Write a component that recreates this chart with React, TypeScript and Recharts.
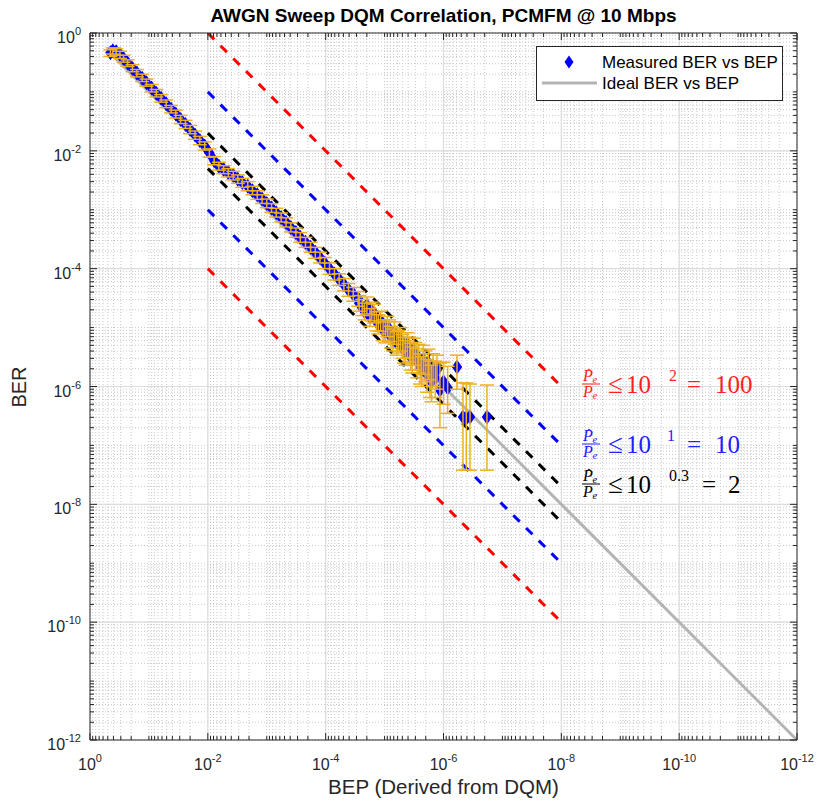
import React from 'react';
import { ComposedChart, Scatter, Line, XAxis, YAxis, CartesianGrid, ReferenceLine, ErrorBar } from 'recharts';

// measured BER vs BEP
const bep = [
  0.45, 0.41, 0.36, 0.31, 0.27, 0.23, 0.19, 0.16, 0.13, 0.11,
  0.09, 0.075, 0.062, 0.051, 0.042, 0.035, 0.029, 0.024, 0.02, 0.0165,
  0.0137, 0.0113, 0.0094, 0.0078, 0.0065, 0.0054, 0.0045, 0.0037, 0.0031, 0.0026,
  0.0021, 0.00175, 0.00145, 0.0012, 0.001, 0.00083, 0.00069, 0.00057, 0.00047, 0.00039,
  0.00032, 0.00027, 0.00022, 0.00018, 0.00015, 0.000125, 0.000104, 0.000086, 0.000071, 0.000059,
  0.000049, 0.000041, 0.000034, 0.000028,
  2.4e-5, 2.0e-5, 1.77e-5, 1.5e-5, 1.28e-5, 1.06e-5, 9.0e-6, 7.8e-6, 6.8e-6, 6.2e-6,
  5.4e-6, 4.7e-6, 4.1e-6, 3.6e-6, 3.2e-6, 2.8e-6, 2.5e-6, 2.2e-6, 1.9e-6, 1.7e-6,
  1.5e-6, 1.29e-6, 1.15e-6, 1.0e-6, 8.5e-7, 5.9e-7, 4.67e-7, 4.1e-7, 3.55e-7, 1.83e-7,
  2.7e-5, 2.2e-5, 1.65e-5, 1.38e-5, 1.17e-5, 9.7e-6, 8.4e-6, 7.2e-6, 5.8e-6, 5.0e-6,
  4.4e-6, 3.8e-6, 3.4e-6, 3.0e-6, 2.65e-6, 2.35e-6, 2.05e-6, 1.8e-6, 1.6e-6, 1.38e-6,
];
const ber = [
  0.46, 0.5, 0.48, 0.43, 0.37, 0.31, 0.25, 0.21, 0.17, 0.143,
  0.116, 0.095, 0.078, 0.063, 0.051, 0.042, 0.034, 0.028, 0.023, 0.0185,
  0.015, 0.0121, 0.0092, 0.0068, 0.0055, 0.0048, 0.0043, 0.0038, 0.0033, 0.0029,
  0.0025, 0.0021, 0.0018, 0.00152, 0.00128, 0.00107, 0.00089, 0.00074, 0.00061, 0.0005,
  0.00041, 0.00034, 0.00028, 0.00023, 0.00019, 0.000155, 0.000125, 0.0001, 0.000081, 0.000066,
  0.000054, 0.000044, 0.000037, 0.000031,
  2.2e-5, 2.4e-5, 1.51e-5, 1.75e-5, 1.15e-5, 9.1e-6, 1.05e-5, 7.0e-6, 8.2e-6, 5.5e-6,
  6.4e-6, 4.2e-6, 5.1e-6, 3.3e-6, 4.0e-6, 2.6e-6, 2.1e-6, 2.9e-6, 1.6e-6, 1.45e-6,
  2.0e-6, 1.9e-6, 8.7e-7, 1.2e-6, 9.5e-7, 2.14e-6, 3.04e-7, 2.9e-7, 3.04e-7, 3.04e-7,
  2.6e-5, 1.9e-5, 1.9e-5, 1.3e-5, 1.3e-5, 8.4e-6, 9.0e-6, 6.3e-6, 5.9e-6, 4.9e-6,
  3.8e-6, 4.3e-6, 2.9e-6, 3.4e-6, 3.1e-6, 1.9e-6, 2.3e-6, 2.5e-6, 1.2e-6, 1.4e-6,
];
const berLow = [
  0.4, 0.44, 0.42, 0.37, 0.32, 0.27, 0.22, 0.18, 0.15, 0.125,
  0.1, 0.082, 0.067, 0.054, 0.044, 0.036, 0.029, 0.024, 0.0195, 0.0157,
  0.0127, 0.0103, 0.0078, 0.0058, 0.0047, 0.0041, 0.0036, 0.0032, 0.0028, 0.0024,
  0.0021, 0.0018, 0.0015, 0.00128, 0.00108, 0.0009, 0.00075, 0.00062, 0.00051, 0.00042,
  0.00034, 0.00028, 0.00023, 0.00019, 0.00015, 0.000125, 0.0001, 0.00008, 0.000064, 0.000052,
  0.000042, 0.000034, 0.000028, 0.000023,
  1.6e-5, 1.7e-5, 1.05e-5, 1.2e-5, 7.8e-6, 6.0e-6, 7.0e-6, 4.5e-6, 5.2e-6, 3.4e-6,
  4.0e-6, 2.5e-6, 3.1e-6, 1.9e-6, 2.3e-6, 1.4e-6, 1.1e-6, 1.6e-6, 8.0e-7, 6.5e-7,
  1.0e-6, 9.0e-7, 2.0e-7, 5.0e-7, 3.5e-7, 9.0e-7, 3.8e-8, 3.8e-8, 3.8e-8, 3.8e-8,
  1.9e-5, 1.35e-5, 1.3e-5, 8.8e-6, 8.6e-6, 5.5e-6, 5.8e-6, 4.0e-6, 3.7e-6, 3.0e-6,
  2.3e-6, 2.6e-6, 1.7e-6, 1.9e-6, 1.7e-6, 1.0e-6, 1.2e-6, 1.3e-6, 5.5e-7, 6.5e-7,
];
const berHigh = [
  0.52, 0.56, 0.54, 0.49, 0.42, 0.35, 0.29, 0.24, 0.2, 0.165,
  0.134, 0.11, 0.09, 0.073, 0.059, 0.049, 0.04, 0.033, 0.027, 0.0217,
  0.0176, 0.0142, 0.0108, 0.008, 0.0064, 0.0056, 0.005, 0.0045, 0.0039, 0.0034,
  0.003, 0.0025, 0.0021, 0.0018, 0.00152, 0.00127, 0.00106, 0.00088, 0.00073, 0.0006,
  0.00049, 0.00041, 0.00034, 0.00028, 0.00023, 0.00019, 0.000155, 0.000125, 0.0001, 0.000082,
  0.000068, 0.000056, 0.000048, 0.000041,
  3.0e-5, 3.3e-5, 2.1e-5, 2.5e-5, 1.65e-5, 1.35e-5, 1.55e-5, 1.05e-5, 1.25e-5, 8.5e-6,
  1.0e-5, 6.8e-6, 8.2e-6, 5.4e-6, 6.6e-6, 4.4e-6, 3.6e-6, 5.0e-6, 2.9e-6, 2.7e-6,
  3.6e-6, 3.4e-6, 2.5e-6, 2.6e-6, 2.2e-6, 3.4e-6, 1.15e-6, 1.15e-6, 1.1e-6, 1.06e-6,
  3.5e-5, 2.6e-5, 2.7e-5, 1.85e-5, 1.9e-5, 1.25e-5, 1.35e-5, 9.5e-6, 9.0e-6, 7.6e-6,
  6.0e-6, 6.9e-6, 4.7e-6, 5.6e-6, 5.2e-6, 3.2e-6, 4.0e-6, 4.3e-6, 2.3e-6, 2.7e-6,
];

// ideal BER = BEP
const idealBep = [0.5, 1e-12];
const idealBer = [0.5, 1e-12];

// bound lines, drawn from BEP 1e-2 to 1e-8
const boundBep = [1e-2, 1e-8];
const bound100 = [1, 1e-6];
const bound10 = [1e-1, 1e-7];
const bound2 = [2e-2, 2e-8];
const boundHalf = [5e-3, 5e-9];
const boundTenth = [1e-3, 1e-9];
const boundHundredth = [1e-4, 1e-10];

// log ticks
const lowerDecades = [-1, -2, -3, -4, -5, -6, -7, -8, -9, -10, -11, -12];
const mantissas = [1, 2, 3, 4, 5, 6, 7, 8, 9];
const majorExps = [0, -2, -4, -6, -8, -10, -12];
const gridMajors = [-2, -4, -6, -8, -10];

const allTicks = [1, ...lowerDecades.flatMap((e) => mantissas.map((m) => m * Math.pow(10, e)))];

const AXIS = '#262626';
const FONT = "'Liberation Sans', Arial, sans-serif";
const SERIF = "'Liberation Serif', 'Times New Roman', serif";

const measured = bep.map((x, i) => ({ x, y: ber[i], err: [ber[i] - berLow[i], berHigh[i] - ber[i]] }));
const pairs = (xs: number[], ys: number[]) => xs.map((x, i) => ({ x, y: ys[i] }));

const tickInfo = (v: number) => {
  const lg = Math.log10(v);
  const e = Math.round(lg);
  const decade = Math.abs(lg - e) < 1e-6;
  return { e, labeled: decade && majorExps.includes(e) };
};

const BottomTick = (props: any) => {
  const { x, y, payload } = props;
  const { e, labeled } = tickInfo(payload.value);
  return (
    <g>
      <line x1={x} x2={x} y1={y} y2={y - (labeled ? 7 : 4)} stroke={AXIS} />
      {labeled && (
        <text x={x} y={y + 30} textAnchor="middle" fontSize={16} fill={AXIS} fontFamily={FONT}>
          10<tspan dy={-8} fontSize={11}>{e}</tspan>
        </text>
      )}
    </g>
  );
};

const TopTick = (props: any) => {
  const { x, y, payload } = props;
  const { labeled } = tickInfo(payload.value);
  return <line x1={x} x2={x} y1={y} y2={y + (labeled ? 7 : 4)} stroke={AXIS} />;
};

const LeftTick = (props: any) => {
  const { x, y, payload } = props;
  const { e, labeled } = tickInfo(payload.value);
  return (
    <g>
      <line x1={x} x2={x + (labeled ? 7 : 4)} y1={y} y2={y} stroke={AXIS} />
      {labeled && (
        <text x={x - 9} y={y + 10} textAnchor="end" fontSize={16} fill={AXIS} fontFamily={FONT}>
          10<tspan dy={-8} fontSize={11}>{e}</tspan>
        </text>
      )}
    </g>
  );
};

const RightTick = (props: any) => {
  const { x, y, payload } = props;
  const { labeled } = tickInfo(payload.value);
  return <line x1={x} x2={x - (labeled ? 7 : 4)} y1={y} y2={y} stroke={AXIS} />;
};

const Diamond = (props: any) => {
  const { cx, cy } = props;
  if (cx == null || cy == null) return <g />;
  return <path d={`M${cx},${cy - 7.5}L${cx + 5.2},${cy}L${cx},${cy + 7.5}L${cx - 5.2},${cy}Z`} fill="#0000ff" />;
};

const NoShape = () => <g />;

const Ratio = ({ y, color, exp, rhs, expX, eqX, rhsX }: any) => (
  <g fill={color} fontFamily={SERIF}>
    <path d={`M585.5,${y - 21}L589,${y - 24}L592.5,${y - 21}`} fill="none" stroke={color} strokeWidth={0.9} />
    <text x={583} y={y - 12.5} fontSize={16} fontStyle="italic">P</text>
    <text x={592.5} y={y - 10.5} fontSize={10.5} fontStyle="italic">e</text>
    <line x1={582} x2={600} y1={y - 9} y2={y - 9} stroke={color} strokeWidth={1} />
    <text x={583} y={y + 4} fontSize={16} fontStyle="italic">P</text>
    <text x={592.5} y={y + 6} fontSize={10.5} fontStyle="italic">e</text>
    <text x={608} y={y} fontSize={27}>≤</text>
    <text x={626} y={y} fontSize={25}>10</text>
    <text x={expX} y={y - 12} fontSize={16}>{exp}</text>
    <text x={eqX} y={y} fontSize={25}>=</text>
    <text x={rhsX} y={y} fontSize={25}>{rhs}</text>
  </g>
);

export default function App() {
  return (
    <div style={{ position: 'relative', width: 819, height: 803, background: '#fff' }}>
      <style>{'body{margin:0}'}</style>
      <ComposedChart width={819} height={803} margin={{ top: 32, right: 21, bottom: 62, left: 89 }}>
        <CartesianGrid stroke="#c9c9c9" strokeDasharray="1 2" />
        {gridMajors.map((e) => (
          <ReferenceLine key={`gx${e}`} x={Math.pow(10, e)} stroke="#dcdcdc" strokeWidth={1.2} />
        ))}
        {gridMajors.map((e) => (
          <ReferenceLine key={`gy${e}`} y={Math.pow(10, e)} stroke="#dcdcdc" strokeWidth={1.2} />
        ))}
        <XAxis
          dataKey="x"
          type="number"
          scale="log"
          domain={[1e-12, 1]}
          allowDataOverflow
          reversed
          ticks={allTicks}
          interval={0}
          tickSize={0}
          tickMargin={0}
          height={1}
          tickLine={false}
          axisLine={{ stroke: AXIS }}
          tick={<BottomTick />}
        />
        <XAxis
          xAxisId="top"
          orientation="top"
          dataKey="x"
          type="number"
          scale="log"
          domain={[1e-12, 1]}
          allowDataOverflow
          reversed
          ticks={allTicks}
          interval={0}
          tickSize={0}
          tickMargin={0}
          height={1}
          tickLine={false}
          axisLine={{ stroke: AXIS }}
          tick={<TopTick />}
        />
        <YAxis
          dataKey="y"
          type="number"
          scale="log"
          domain={[1e-12, 1]}
          allowDataOverflow
          ticks={allTicks}
          interval={0}
          tickSize={0}
          tickMargin={0}
          width={1}
          tickLine={false}
          axisLine={{ stroke: AXIS }}
          tick={<LeftTick />}
        />
        <YAxis
          yAxisId="right"
          orientation="right"
          dataKey="y"
          type="number"
          scale="log"
          domain={[1e-12, 1]}
          allowDataOverflow
          ticks={allTicks}
          interval={0}
          tickSize={0}
          tickMargin={0}
          width={1}
          tickLine={false}
          axisLine={{ stroke: AXIS }}
          tick={<RightTick />}
        />
        <Line data={pairs(idealBep, idealBer)} dataKey="y" stroke="#b3b3b3" strokeWidth={3} dot={false} isAnimationActive={false} />
        <Line data={pairs(boundBep, bound100)} dataKey="y" stroke="#ff0000" strokeWidth={3} strokeDasharray="9 9" dot={false} isAnimationActive={false} />
        <Line data={pairs(boundBep, boundHundredth)} dataKey="y" stroke="#ff0000" strokeWidth={3} strokeDasharray="9 9" dot={false} isAnimationActive={false} />
        <Line data={pairs(boundBep, bound10)} dataKey="y" stroke="#0000ff" strokeWidth={3} strokeDasharray="9 9" dot={false} isAnimationActive={false} />
        <Line data={pairs(boundBep, boundTenth)} dataKey="y" stroke="#0000ff" strokeWidth={3} strokeDasharray="9 9" dot={false} isAnimationActive={false} />
        <Line data={pairs(boundBep, bound2)} dataKey="y" stroke="#000000" strokeWidth={3} strokeDasharray="9 9" dot={false} isAnimationActive={false} />
        <Line data={pairs(boundBep, boundHalf)} dataKey="y" stroke="#000000" strokeWidth={3} strokeDasharray="9 9" dot={false} isAnimationActive={false} />
        <Scatter data={measured} shape={<Diamond />} isAnimationActive={false} />
        <Scatter data={measured} shape={<NoShape />} isAnimationActive={false} zIndex={700}>
          <ErrorBar dataKey="err" direction="y" width={7} stroke="#edb120" strokeWidth={1.5} zIndex={700} />
        </Scatter>
      </ComposedChart>

      <svg width={819} height={803} style={{ position: 'absolute', left: 0, top: 0, pointerEvents: 'none' }}>
        <text x={443.5} y={22} textAnchor="middle" fontSize={19} fontWeight="bold" fill="#000" fontFamily={FONT}>
          AWGN Sweep DQM Correlation, PCMFM @ 10 Mbps
        </text>
        <text x={443.5} y={794} textAnchor="middle" fontSize={20.5} fill={AXIS} fontFamily={FONT}>
          BEP (Derived from DQM)
        </text>
        <text x={26} y={387} textAnchor="middle" fontSize={20} fill={AXIS} fontFamily={FONT} transform="rotate(-90 26 387)">
          BER
        </text>

        <rect x={536.5} y={46.5} width={246} height={54} fill="#fff" stroke={AXIS} strokeWidth={1} />
        <path d="M569,55.5L573.5,62L569,68.5L564.5,62Z" fill="#0000ff" />
        <text x={602} y={68} fontSize={17} fill="#000" fontFamily={FONT}>Measured BER vs BEP</text>
        <line x1={542} x2={597} y1={83} y2={83} stroke="#b3b3b3" strokeWidth={3} />
        <text x={602} y={89} fontSize={17} fill="#000" fontFamily={FONT}>Ideal BER vs BEP</text>

        <Ratio y={393} color="#ff1f1f" exp="2" expX={669} eqX={687} rhs="100" rhsX={715} />
        <Ratio y={453} color="#2020ff" exp="1" expX={667} eqX={687} rhs="10" rhsX={715} />
        <Ratio y={493} color="#000000" exp="0.3" expX={669} eqX={702} rhs="2" rhsX={728} />
      </svg>
    </div>
  );
}
